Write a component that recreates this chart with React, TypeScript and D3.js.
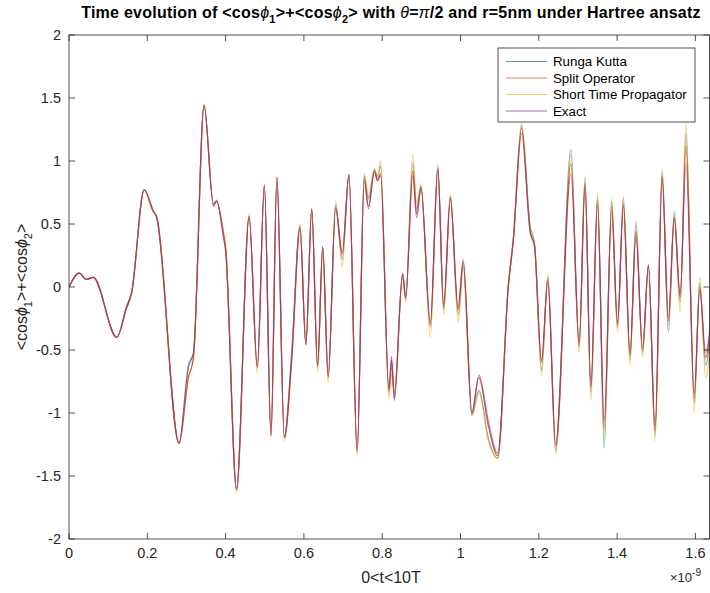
import React from 'react';
import * as d3 from 'd3';

const T = [0, 0.026, 0.045, 0.062, 0.122, 0.147, 0.16, 0.192, 0.215, 0.224, 0.281, 0.305, 0.318, 0.345, 0.369, 0.377, 0.394, 0.40, 0.428, 0.46, 0.481, 0.499, 0.516, 0.531, 0.55, 0.569, 0.59, 0.605, 0.62, 0.635, 0.648, 0.662, 0.681, 0.698, 0.715, 0.736, 0.754, 0.765, 0.78, 0.788, 0.796, 0.817, 0.824, 0.831, 0.852, 0.86, 0.878, 0.888, 0.899, 0.923, 0.942, 0.957, 0.974, 0.994, 1.007, 1.029, 1.047, 1.071, 1.095, 1.122, 1.135, 1.156, 1.178, 1.189, 1.207, 1.223, 1.243, 1.282, 1.303, 1.318, 1.333, 1.35, 1.367, 1.386, 1.401, 1.416, 1.433, 1.448, 1.465, 1.48, 1.497, 1.515, 1.531, 1.546, 1.561, 1.576, 1.597, 1.611, 1.626, 1.645];

const exact = [0, 0.11, 0.06, 0.077, -0.40, -0.16, -0.04, 0.775, 0.61, 0.545, -1.235, -0.62, -0.52, 1.445, 0.64, 0.69, 0.40, 0.28, -1.61, 0.55, -0.63, 0.81, -1.17, 0.875, -1.19, -0.55, 0.46, -0.45, 0.62, -0.62, 0.32, -0.70, 0.62, 0.28, 0.89, -1.30, 0.84, 0.62, 0.92, 0.84, 0.88, -0.80, -0.55, -0.90, 0.11, -0.08, 0.88, 0.55, 0.78, -0.28, 0.93, -0.14, 0.70, -0.16, 0.22, -1.00, -0.70, -1.06, -1.32, 0.0, 0.37, 1.22, 0.43, 0.32, -0.58, 0.04, -1.24, 0.90, -0.44, 0.80, -0.78, 0.65, -1.06, 0.60, -0.28, 0.64, -0.52, 0.40, -0.48, 0.17, -1.10, 0.86, -0.24, 0.54, -0.06, 0.98, -0.84, -0.02, -0.52, -0.05];

const splitOp = [0, 0.11, 0.06, 0.077, -0.40, -0.17, -0.05, 0.77, 0.60, 0.56, -1.24, -0.72, -0.56, 1.44, 0.66, 0.68, 0.44, 0.32, -1.60, 0.56, -0.64, 0.81, -1.18, 0.87, -1.19, -0.56, 0.48, -0.46, 0.62, -0.63, 0.32, -0.71, 0.63, 0.26, 0.89, -1.30, 0.86, 0.64, 0.92, 0.85, 0.90, -0.82, -0.58, -0.88, 0.10, -0.08, 0.92, 0.58, 0.79, -0.30, 0.94, -0.16, 0.71, -0.18, 0.20, -1.00, -0.72, -1.10, -1.34, 0.0, 0.38, 1.26, 0.44, 0.33, -0.60, 0.06, -1.26, 0.98, -0.46, 0.82, -0.80, 0.68, -1.12, 0.64, -0.30, 0.66, -0.54, 0.44, -0.50, 0.17, -1.14, 0.88, -0.27, 0.55, -0.08, 1.12, -0.88, 0.0, -0.56, -0.08];

const rungaKutta = [0, 0.11, 0.06, 0.077, -0.40, -0.15, -0.04, 0.77, 0.60, 0.55, -1.24, -0.64, -0.52, 1.44, 0.65, 0.68, 0.42, 0.30, -1.60, 0.56, -0.64, 0.80, -1.18, 0.86, -1.20, -0.50, 0.48, -0.46, 0.62, -0.64, 0.31, -0.72, 0.65, 0.22, 0.89, -1.31, 0.88, 0.70, 0.93, 0.88, 0.96, -0.84, -0.62, -0.85, 0.10, -0.10, 0.98, 0.62, 0.80, -0.32, 0.97, -0.18, 0.72, -0.22, 0.17, -1.02, -0.82, -1.20, -1.36, 0.0, 0.38, 1.28, 0.48, 0.35, -0.66, 0.08, -1.30, 1.09, -0.48, 0.86, -0.84, 0.72, -1.28, 0.68, -0.32, 0.70, -0.58, 0.52, -0.52, 0.18, -1.18, 0.92, -0.36, 0.60, -0.12, 1.22, -0.92, 0.03, -0.62, -0.10];

const shortTime = [0, 0.11, 0.06, 0.077, -0.40, -0.17, -0.05, 0.77, 0.60, 0.56, -1.25, -0.72, -0.56, 1.45, 0.66, 0.68, 0.44, 0.32, -1.63, 0.58, -0.68, 0.80, -1.20, 0.87, -1.22, -0.60, 0.50, -0.44, 0.61, -0.68, 0.30, -0.76, 0.68, 0.16, 0.90, -1.35, 0.90, 0.72, 0.94, 0.87, 1.00, -0.88, -0.68, -0.84, 0.08, -0.12, 1.05, 0.66, 0.82, -0.40, 0.95, -0.22, 0.74, -0.28, 0.14, -1.02, -0.84, -1.22, -1.36, 0.02, 0.40, 1.30, 0.46, 0.34, -0.70, 0.10, -1.32, 1.05, -0.52, 0.88, -0.90, 0.74, -1.22, 0.70, -0.36, 0.72, -0.62, 0.48, -0.55, 0.17, -1.22, 0.94, -0.30, 0.57, -0.20, 1.30, -1.00, 0.08, -0.72, -0.12];

const seriesNames = ['Runga Kutta', 'Split Operator', 'Short Time Propagator', 'Exact'];
const seriesValues = [rungaKutta, splitOp, shortTime, exact];
const seriesColors = ['#0072BD', '#D95319', '#EDB120', '#7E2F8E'];
const seriesOpacity = [0.6, 0.95, 0.7, 0.6];
const drawOrder = [0, 2, 1, 3];

const xTicks = [0, 0.2, 0.4, 0.6, 0.8, 1, 1.2, 1.4, 1.6];
const xTickLabels = ['0', '0.2', '0.4', '0.6', '0.8', '1', '1.2', '1.4', '1.6'];
const yTicks = [-2, -1.5, -1, -0.5, 0, 0.5, 1, 1.5, 2];
const yTickLabels = ['-2', '-1.5', '-1', '-0.5', '0', '0.5', '1', '1.5', '2'];

const W = 710;
const H = 593;
const L = 69;
const R = 709.5;
const TOP = 35;
const BOT = 539;
const FONT = '"Liberation Sans", Arial, Helvetica, sans-serif';
const AX = '#262626';

export default function App() {
  const x = d3.scaleLinear().domain([0, 1.636]).range([L, R]);
  const y = d3.scaleLinear().domain([-2, 2]).range([BOT, TOP]);
  const line = d3
    .line<number>()
    .x((_, i) => x(T[i]))
    .y((d) => y(d))
    .curve(d3.curveMonotoneX);
  const tl = 6;
  const legX = 498;
  const legY = 48;
  const legW = 197;
  const legH = 74;
  const rowY = [61.5, 78, 94.5, 111];

  return (
    <svg width={W} height={H} style={{ position: 'absolute', left: 0, top: 0, background: '#fff' }}>
      <defs>
        <clipPath id="plotclip">
          <rect x={L} y={TOP} width={R - L} height={BOT - TOP} />
        </clipPath>
      </defs>
      <rect x={0} y={0} width={W} height={H} fill="#fff" />
      <g clipPath="url(#plotclip)">
        {drawOrder.map((k) => (
          <path key={k} d={line(seriesValues[k]) || ''} fill="none" stroke={seriesColors[k]} strokeWidth={1.2} strokeOpacity={seriesOpacity[k]} />
        ))}
      </g>
      <rect x={L} y={TOP} width={R - L} height={BOT - TOP} fill="none" stroke={AX} strokeWidth={0.8} />
      {xTicks.map((t, i) => (
        <g key={'xt' + i}>
          <line x1={x(t)} x2={x(t)} y1={BOT} y2={BOT - tl} stroke={AX} strokeWidth={0.8} />
          <line x1={x(t)} x2={x(t)} y1={TOP} y2={TOP + tl} stroke={AX} strokeWidth={0.8} />
          <text x={x(t)} y={558} textAnchor="middle" fontFamily={FONT} fontSize={14.5} fill={AX}>
            {xTickLabels[i]}
          </text>
        </g>
      ))}
      {yTicks.map((v, i) => (
        <g key={'yt' + i}>
          <line x1={L} x2={L + tl} y1={y(v)} y2={y(v)} stroke={AX} strokeWidth={0.8} />
          <line x1={R} x2={R - tl} y1={y(v)} y2={y(v)} stroke={AX} strokeWidth={0.8} />
          <text x={61} y={y(v) + 5} textAnchor="end" fontFamily={FONT} fontSize={14.5} fill={AX}>
            {yTickLabels[i]}
          </text>
        </g>
      ))}
      <text x={670} y={582} fontFamily={FONT} fontSize={13} fill={AX}>
        ×10<tspan dy={-6} fontSize={10}>-9</tspan>
      </text>
      <text x={391} y={583} textAnchor="middle" fontFamily={FONT} fontSize={16} fill={AX}>
        0&lt;t&lt;10T
      </text>
      <text transform={`translate(27,${(TOP + BOT) / 2}) rotate(-90)`} textAnchor="middle" fontFamily={FONT} fontSize={16} fill={AX}>
        &lt;cos<tspan fontStyle="italic">ϕ</tspan>
        <tspan dy={5} fontSize={11}>1</tspan>
        <tspan dy={-5}>&gt;+&lt;cos</tspan>
        <tspan fontStyle="italic">ϕ</tspan>
        <tspan dy={5} fontSize={11}>2</tspan>
        <tspan dy={-5}>&gt;</tspan>
      </text>
      <text x={391} y={18} textAnchor="middle" fontFamily={FONT} fontSize={16} fontWeight="bold" fill="#000" letterSpacing={0.25}>
        Time evolution of &lt;cos<tspan fontStyle="italic" fontWeight="normal">ϕ</tspan>
        <tspan dy={5} fontSize={11}>1</tspan>
        <tspan dy={-5}>&gt;+&lt;cos</tspan>
        <tspan fontStyle="italic" fontWeight="normal">ϕ</tspan>
        <tspan dy={5} fontSize={11}>2</tspan>
        <tspan dy={-5}>&gt; with </tspan>
        <tspan fontStyle="italic" fontWeight="normal">θ</tspan>
        <tspan>=</tspan>
        <tspan fontStyle="italic" fontWeight="normal">π</tspan>
        <tspan>/2 and r=5nm under Hartree ansatz</tspan>
      </text>
      <rect x={legX} y={legY} width={legW} height={legH} fill="#fff" stroke={AX} strokeWidth={0.8} />
      {seriesNames.map((n, k) => (
        <g key={'lg' + k}>
          <line x1={506} x2={547} y1={rowY[k]} y2={rowY[k]} stroke={seriesColors[k]} strokeWidth={1.1} strokeOpacity={0.7} />
          <text x={553} y={rowY[k] + 4.5} fontFamily={FONT} fontSize={13.3} fill="#000">
            {n}
          </text>
        </g>
      ))}
    </svg>
  );
}
